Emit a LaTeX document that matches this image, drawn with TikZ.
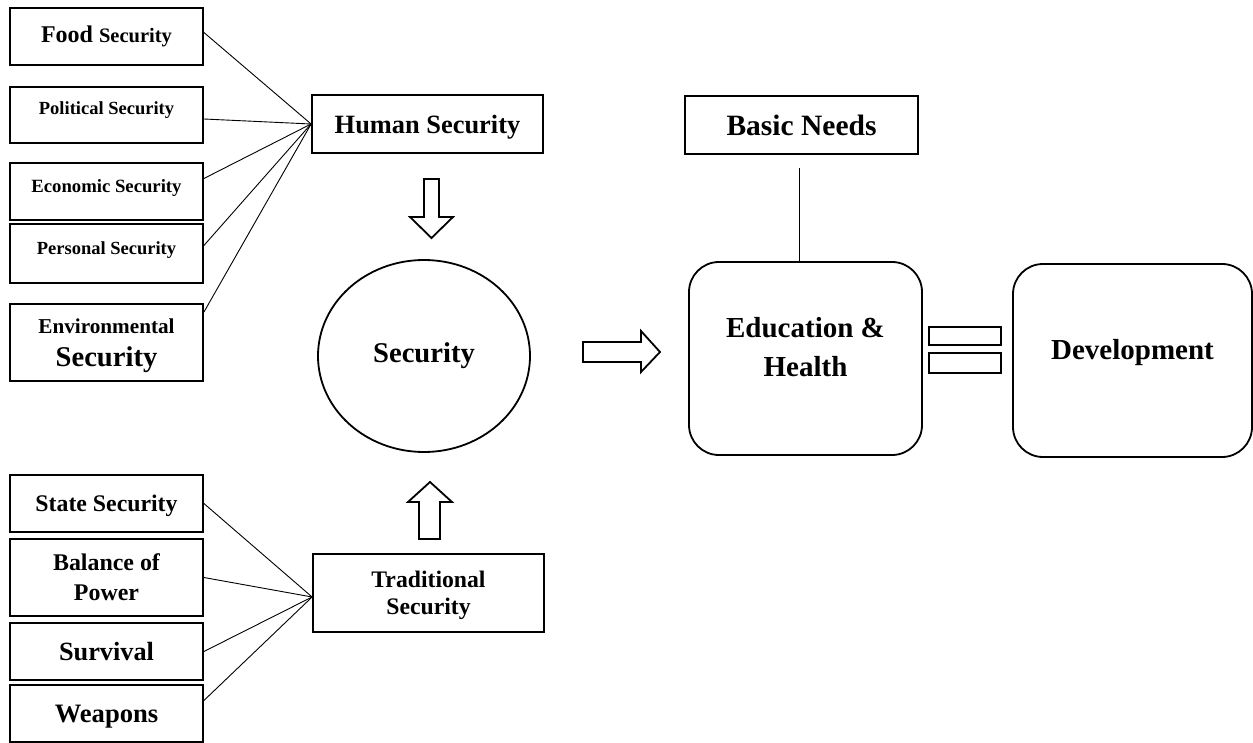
\documentclass[tikz,border=0pt]{standalone}
\usepackage{fontspec}
\setmainfont{Liberation Serif}
\usetikzlibrary{calc,shapes.geometric}
\newcommand{\bsize}[2]{\fontsize{#1}{#2}\selectfont\bfseries}

\begin{document}
\begin{tikzpicture}[x=1pt,y=1pt,yscale=-1,xscale=1,
  lbox/.style={draw,line width=1.8pt,inner sep=0pt,align=center,minimum width=193pt,minimum height=57pt,text depth=0pt},
  cbox/.style={draw,line width=1.8pt,inner sep=0pt,align=center,minimum width=231pt,minimum height=58pt,text depth=0pt},
  rbox/.style={draw,line width=1.8pt,rounded corners=30pt,inner sep=0pt,align=center,minimum width=233pt,minimum height=193pt},
  link/.style={line width=0.9pt},
  fat/.style={draw,line width=1.8pt,fill=white}]
\useasboundingbox (0,0) rectangle (1253,743);

\node[lbox,font=\bsize{24}{28},text depth=4pt] (food) at (106.5,36.5) {Food {\fontsize{20.5}{24}\selectfont Security}};
\node[lbox,minimum height=56pt,font=\bsize{18.5}{22},text depth=13pt] (political) at (106.5,115) {Political Security};
\node[lbox,font=\bsize{18.7}{22},text depth=10pt] (economic) at (106.5,191.5) {Economic Security};
\node[lbox,minimum height=59pt,font=\bsize{18.5}{22},text depth=10pt] (personal) at (106.5,253.5) {Personal Security};
\node[lbox,minimum height=77pt,font=\bsize{28.6}{29},text depth=0pt] (environ) at (106.5,342.5) {{\fontsize{21.2}{29}\selectfont Environmental}\\[4pt]Security};

\node[lbox,font=\bsize{23.8}{28}] (state) at (106.5,503.5) {State Security};
\node[lbox,minimum height=77pt,font=\bsize{23.9}{30}] (balance) at (106.5,577.5) {Balance of\\Power};
\node[lbox,font=\bsize{26.3}{30}] (survival) at (106.5,651.5) {Survival};
\node[lbox,font=\bsize{26.6}{30}] (weapons) at (106.5,713.5) {Weapons};

\node[cbox,font=\bsize{26.4}{30}] (human) at (427.5,124) {Human Security};
\node[cbox,minimum height=78pt,font=\bsize{23.7}{27}] (trad) at (428.5,593) {Traditional\\Security};
\node[draw,ellipse,line width=1.8pt,inner sep=0pt,minimum width=212pt,minimum height=192pt,font=\bsize{28.6}{32}] (sec) at (424,356) {Security};

\node[cbox,minimum width=233pt,font=\bsize{29.5}{34}] (basic) at (801.5,125) {Basic Needs};
\node[rbox,font=\bsize{29}{39},text depth=23pt] (edu) at (805.5,358.5) {Education \&\\Health};
\node[rbox,minimum width=239pt,font=\bsize{29}{34},text depth=22pt] (dev) at (1132.5,360.5) {Development};

\draw[link] ($(food.east)+(0,-4)$) -- (human.west);
\draw[link] ($(political.east)+(0,4)$) -- (human.west);
\draw[link] ($(economic.east)+(0,-13)$) -- (human.west);
\draw[link] ($(personal.east)+(0,-8)$) -- (human.west);
\draw[link] ($(environ.north east)+(0,9)$) -- (human.west);

\coordinate (tin) at ($(trad.west)+(0,4)$);
\draw[link] (state.east) -- (tin);
\draw[link] (balance.east) -- (tin);
\draw[link] (survival.east) -- (tin);
\draw[link] ($(weapons.east)+(0,-13)$) -- (tin);

\coordinate (bn) at (799,168);
\draw[link] (bn) -- (bn |- edu.north);

\draw[fat] (424,179) -- (439,179) -- (439,217) -- (453,217) -- (431.5,238) -- (410,217) -- (424,217) -- cycle;
\draw[fat] (419,539) -- (440,539) -- (440,502) -- (452,502) -- (430,482) -- (408,502) -- (419,502) -- cycle;
\draw[fat] (583,342) -- (641,342) -- (641,331) -- (660,352) -- (641,372) -- (641,362) -- (583,362) -- cycle;
\draw[fat] (929,327) rectangle (1001,345);
\draw[fat] (929,353) rectangle (1001,373);
\end{tikzpicture}
\end{document}
